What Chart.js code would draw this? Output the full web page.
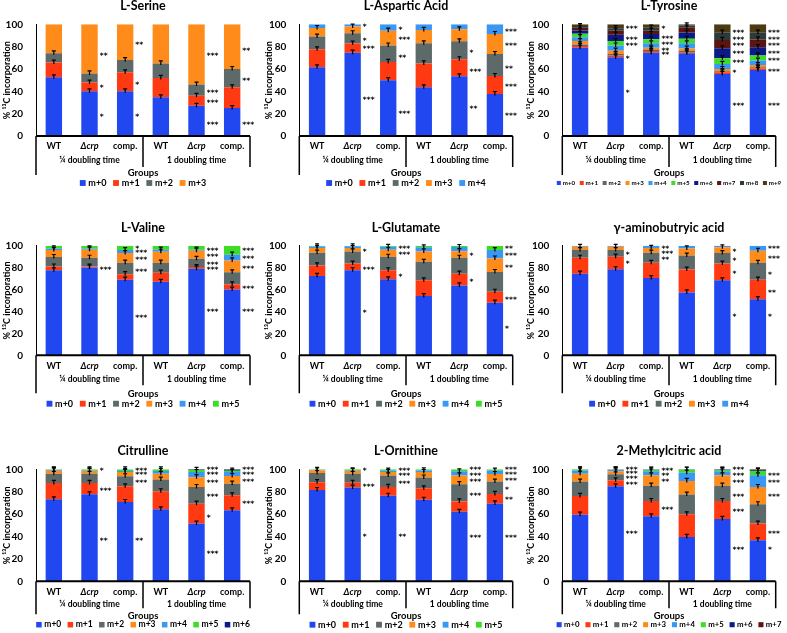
<!DOCTYPE html>
<html>
<head>
<meta charset="utf-8">
<script src="https://cdn.jsdelivr.net/npm/chart.js@4.4.1/dist/chart.umd.min.js"></script>
<style>
  body { margin: 0; background: #fff; }
  canvas { position: absolute; }
</style>
</head>
<body>
<script>
// categories
const strains = ['WT', 'Δcrp', 'comp.', 'WT', 'Δcrp', 'comp.'];
const timeGroups = ['¼ doubling time', '1 doubling time'];
const isotopologues = ['m+0', 'm+1', 'm+2', 'm+3', 'm+4', 'm+5', 'm+6', 'm+7', 'm+8', 'm+9'];
const yTicks = [0, 20, 40, 60, 80, 100];

// L-Serine
const serM0 = [52.5, 40, 40, 34.6, 27, 25];
const serM1 = [13.2, 7.8, 17, 17.4, 9, 18.6];
const serM2 = [8.3, 8.2, 11, 13, 10, 16.4];
const serM3 = [26, 44, 32, 35, 54, 40];
const serStars = [[1, 73.4, '**'], [1, 45, '*'], [1, 19, '*'], [2, 83.6, '**'], [2, 47, '*'], [2, 19, '*'],
  [4, 73, '***'], [4, 40.6, '***'], [4, 31.6, '***'], [4, 12, '***'], [5, 77.6, '**'], [5, 50.7, '**'], [5, 12, '***']];

// L-Aspartic Acid
const aspM0 = [61.5, 74.6, 50, 43.6, 53.4, 37.6];
const aspM1 = [16.1, 8.1, 16.3, 21.4, 15.3, 16.1];
const aspM2 = [11.4, 9.3, 14.7, 18, 16.1, 19.7];
const aspM3 = [7.7, 6, 13.3, 12, 10.7, 17.9];
const aspM4 = [3.3, 2, 5.7, 5, 4.5, 8.7];
const aspStars = [[1, 99.4, '*'], [1, 86.9, '*'], [1, 79.4, '***'], [1, 33.7, '***'],
  [2, 97, '*'], [2, 87.5, '***'], [2, 71.6, '**'], [2, 21, '***'],
  [4, 76, '*'], [4, 59, '***'], [4, 26, '**'],
  [5, 95, '***'], [5, 82, '***'], [5, 62, '**'], [5, 45.7, '***'], [5, 19.4, '***']];

// L-Tyrosine
const tyrM0 = [79, 70.4, 74.6, 74, 55.5, 59];
const tyrM1 = [1.5, 1.6, 1.4, 1, 1.5, 1.5];
const tyrM2 = [1.5, 1.5, 1.5, 1, 1, 1];
const tyrM3 = [3, 2.9, 1.5, 2.3, 2, 2];
const tyrM4 = [3.5, 4.6, 4, 4.7, 4.5, 4];
const tyrM5 = [3, 4, 3.6, 4, 5, 4.5];
const tyrM6 = [3, 5.7, 4.7, 5.6, 9, 7.5];
const tyrM7 = [2.5, 3.6, 3, 4.4, 7.5, 7];
const tyrM8 = [1.5, 2.2, 2.7, 2, 6.5, 6];
const tyrM9 = [1.5, 3.5, 3, 1, 7.5, 7.5];
const tyrStars = [[1, 97.3, '***'], [1, 87.8, '***'], [1, 82.7, '***'], [1, 70.4, '*'], [1, 40.6, '*'],
  [2, 97.3, '*'], [2, 88.4, '***'], [2, 83, '***'], [2, 77.6, '**'], [2, 74.6, '**'],
  [4, 94.3, '***'], [4, 88, '***'], [4, 82, '***'], [4, 75, '***'], [4, 67, '***'], [4, 58.5, '*'], [4, 29, '***'],
  [5, 94.3, '***'], [5, 88, '***'], [5, 82, '***'], [5, 75, '***'], [5, 68.7, '***'], [5, 59, '***'], [5, 29, '***']];

// L-Valine
const valM0 = [77.5, 80, 69, 67, 79, 60];
const valM1 = [3.5, 1, 5, 8.4, 1.5, 4.7];
const valM2 = [8.7, 8, 10.5, 9.1, 7.5, 11];
const valM3 = [6.3, 7.4, 8.8, 10, 7.4, 10.9];
const valM4 = [1.5, 1.1, 2.7, 1.9, 1, 5.2];
const valM5 = [2.5, 2.5, 4, 3.6, 3.6, 8.2];
const valStars = [[1, 80, '***'],
  [2, 98.8, '*'], [2, 95, '***'], [2, 89, '***'], [2, 77.8, '***'], [2, 36, '***'],
  [4, 96.6, '***'], [4, 91.5, '***'], [4, 84, '***'], [4, 79.3, '***'], [4, 41.6, '***'],
  [5, 96.6, '***'], [5, 89.4, '***'], [5, 80.5, '***'], [5, 62.3, '***'], [5, 41.6, '***']];

// L-Glutamate
const gluM0 = [72.4, 77.6, 69.3, 54, 63.8, 48];
const gluM1 = [9.6, 6.1, 8.3, 14.4, 10.7, 10];
const gluM2 = [11.6, 11.1, 12.3, 16.9, 14.5, 18];
const gluM3 = [4.2, 3.2, 6.4, 9.5, 6, 12.3];
const gluM4 = [1.5, 1.5, 2.7, 3.7, 3.8, 7.7];
const gluM5 = [0.7, 0.5, 1, 1.5, 1.2, 4];
const gluStars = [[1, 96, '*'], [1, 80, '***'], [1, 40, '*'],
  [2, 98.5, '***'], [2, 93, '***'], [2, 73, '*'],
  [4, 92, '*'], [4, 69, '*'],
  [5, 98.5, '**'], [5, 92, '***'], [5, 81.6, '**'], [5, 52, '***'], [5, 25.5, '*']];

// gamma-aminobutyric acid
const gabM0 = [74.5, 78.5, 70.5, 57.4, 68.4, 51.2];
const gabM1 = [14.5, 11.5, 13.9, 20.8, 15.3, 17.8];
const gabM2 = [7, 6, 9.2, 12.8, 9.6, 15.4];
const gabM3 = [3, 3, 4.4, 6.5, 5.2, 11];
const gabM4 = [1, 1, 2, 2.5, 1.5, 4.6];
const gabStars = [[1, 93.6, '*'], [1, 85.3, '*'],
  [2, 98.5, '**'], [2, 94, '***'], [2, 89, '**'],
  [4, 96, '*'], [4, 87.4, '*'], [4, 76, '*'], [4, 37, '*'],
  [5, 98.5, '***'], [5, 90, '***'], [5, 75, '*'], [5, 59, '**'], [5, 37, '*']];

// Citrulline
const citM0 = [73.2, 77.7, 70.8, 64.3, 51.5, 63.4];
const citM1 = [14.6, 10.1, 14, 16.1, 17.8, 13.4];
const citM2 = [8.2, 8.2, 9, 10.4, 14.9, 10.4];
const citM3 = [2.8, 2.5, 3.8, 5.2, 8.8, 6.8];
const citM4 = [0.7, 0.5, 0.9, 2.5, 4.6, 3.6];
const citM5 = [0.5, 1, 1.5, 1.5, 1.8, 1.2];
const citM6 = [0, 0, 0, 0, 0.6, 1.2];
const citStars = [[1, 100, '*'], [1, 82.7, '***'], [1, 38, '**'],
  [2, 100.6, '***'], [2, 96.4, '***'], [2, 89.3, '***'], [2, 38, '**'],
  [4, 100.8, '***'], [4, 96.4, '***'], [4, 89.3, '***'], [4, 76.8, '***'], [4, 58.3, '*'], [4, 26, '***'],
  [5, 100.8, '***'], [5, 96.4, '***'], [5, 90.5, '***'], [5, 70.5, '***']];

// L-Ornithine
const ornM0 = [81.5, 83.7, 76.4, 72.8, 62, 69.5];
const ornM1 = [7, 4.3, 7.9, 10.2, 9.3, 8.5];
const ornM2 = [8.2, 8, 10.2, 9.7, 15.4, 11];
const ornM3 = [2.4, 2.5, 3.1, 4.9, 7.8, 6.8];
const ornM4 = [0.5, 0.5, 1.2, 1.4, 3.7, 3];
const ornM5 = [0.4, 1, 1.2, 1, 1.8, 1.2];
const ornStars = [[1, 100, '*'], [1, 86, '***'], [1, 41, '*'],
  [2, 100.6, '***'], [2, 96, '***'], [2, 88.5, '***'], [2, 41, '**'],
  [4, 100.8, '***'], [4, 96, '***'], [4, 90.6, '***'], [4, 78, '***'], [4, 40, '***'],
  [5, 100.8, '***'], [5, 96.4, '***'], [5, 90.9, '***'], [5, 83.7, '*'], [5, 74, '**'], [5, 40, '***']];

// 2-Methylcitric acid
const mcaM0 = [59.5, 84.8, 58, 39.6, 55.7, 36.6];
const mcaM1 = [16.7, 5.4, 13.7, 20.2, 16, 14.9];
const mcaM2 = [12.8, 5.3, 13.7, 17.6, 13.7, 17.3];
const mcaM3 = [7.1, 2.7, 9.2, 12.2, 9.2, 15.4];
const mcaM4 = [2.7, 1.3, 3.6, 7.4, 3.6, 10.4];
const mcaM5 = [1, 0.3, 1.4, 2.6, 1.2, 3.9];
const mcaM6 = [0.1, 0.1, 0.2, 0.2, 0.3, 0.6];
const mcaM7 = [0.1, 0.1, 0.2, 0.2, 0.3, 0.9];
const mcaStars = [[1, 101, '***'], [1, 97.6, '***'], [1, 93, '***'], [1, 87.8, '***'], [1, 44, '***'],
  [2, 100, '***'], [2, 95.5, '**'], [2, 90, '**'], [2, 65.5, '***'],
  [4, 101, '***'], [4, 96, '***'], [4, 89.6, '***'], [4, 77.4, '***'], [4, 63.4, '***'], [4, 29.7, '***'],
  [5, 96, '***'], [5, 89.6, '***'], [5, 77.4, '***'], [5, 44, '***'], [5, 29.7, '*']];

const colors = ['#2148F0', '#FF3A12', '#5E6A6A', '#FF8C1A', '#3A98F5', '#3EDC28', '#0B1A85', '#5C1410', '#2B3B3B', '#4C3A12'];

const panels = [
  { title: 'L-Serine', series: [serM0, serM1, serM2, serM3], stars: serStars },
  { title: 'L-Aspartic Acid', series: [aspM0, aspM1, aspM2, aspM3, aspM4], stars: aspStars },
  { title: 'L-Tyrosine', series: [tyrM0, tyrM1, tyrM2, tyrM3, tyrM4, tyrM5, tyrM6, tyrM7, tyrM8, tyrM9], stars: tyrStars, legendFont: 6.2 },
  { title: 'L-Valine', series: [valM0, valM1, valM2, valM3, valM4, valM5], stars: valStars },
  { title: 'L-Glutamate', series: [gluM0, gluM1, gluM2, gluM3, gluM4, gluM5], stars: gluStars },
  { title: 'γ-aminobutryic acid', series: [gabM0, gabM1, gabM2, gabM3, gabM4], stars: gabStars },
  { title: 'Citrulline', series: [citM0, citM1, citM2, citM3, citM4, citM5, citM6], stars: citStars, legendFont: 8.5 },
  { title: 'L-Ornithine', series: [ornM0, ornM1, ornM2, ornM3, ornM4, ornM5], stars: ornStars },
  { title: '2-Methylcitric acid', series: [mcaM0, mcaM1, mcaM2, mcaM3, mcaM4, mcaM5, mcaM6, mcaM7], stars: mcaStars, legendFont: 7.8 }
];

// layout of the 3x3 grid
const rowGeom = [
  { y: 0, plotTop: 24.3, plotBottom: 136, tickDy: 10, groupDy: 24, groupsDy: 36.5, legendDy: 47, leftLine: 39, midLine: 31 },
  { y: 211, plotTop: 34.7, plotBottom: 144.3, tickDy: 10.7, groupDy: 23.7, groupsDy: 38.4, legendDy: 48.4, leftLine: 38, midLine: 30 },
  { y: 422, plotTop: 47.3, plotBottom: 159.3, tickDy: 10.7, groupDy: 23.4, groupsDy: 35, legendDy: 43.4, leftLine: 33, midLine: 27 }
];
const colGeom = [
  { x: 0, w: 262, left: 36, right: 250 },
  { x: 262, w: 262, left: 37.3, right: 250.7 },
  { x: 524, w: 263, left: 38.3, right: 251.7 }
];
const H = 211;
const FONT = 'Lato';

Chart.defaults.font.family = FONT;
Chart.defaults.color = '#000';

// draws everything Excel put round the bars: caps, axis box, labels, legend, stars
const decorate = {
  id: 'decorate',
  afterDatasetsDraw(chart, args, opts) {
    const { ctx, chartArea: a, scales: { x, y } } = chart;
    const p = opts.panel, g = opts.row;
    const mid = (a.left + a.right) / 2;
    const n = chart.data.datasets.length;
    ctx.save();

    // error caps at the top of each segment
    ctx.strokeStyle = '#000';
    ctx.lineWidth = 1.2;
    chart.data.datasets.forEach((ds, di) => {
      if (di === n - 1) return;
      chart.getDatasetMeta(di).data.forEach((bar, i) => {
        if (!ds.data[i]) return;
        ctx.beginPath();
        ctx.moveTo(bar.x, bar.y + 1.5);
        ctx.lineTo(bar.x, bar.y - 2.5);
        ctx.moveTo(bar.x - 2, bar.y - 2.5);
        ctx.lineTo(bar.x + 2, bar.y - 2.5);
        ctx.stroke();
      });
    });

    // axis line and group box
    ctx.lineWidth = 2;
    ctx.beginPath();
    ctx.moveTo(a.left, a.bottom);
    ctx.lineTo(a.right, a.bottom);
    ctx.stroke();
    ctx.lineWidth = 1.5;
    ctx.beginPath();
    ctx.moveTo(a.left, a.bottom);
    ctx.lineTo(a.left, a.bottom + g.leftLine);
    ctx.moveTo(mid, a.bottom);
    ctx.lineTo(mid, a.bottom + g.midLine);
    ctx.moveTo(a.right, a.bottom);
    ctx.lineTo(a.right, a.bottom + g.midLine);
    ctx.stroke();

    ctx.fillStyle = '#000';
    ctx.textAlign = 'center';
    ctx.textBaseline = 'middle';

    // strain labels
    strains.forEach((s, i) => {
      ctx.font = (s.startsWith('Δ') ? 'italic bold ' : 'bold ') + '9px ' + FONT;
      ctx.fillText(s, x.getPixelForValue(i), a.bottom + g.tickDy);
    });
    // time groups
    ctx.font = 'bold 8.5px ' + FONT;
    timeGroups.forEach((t, k) => {
      const cx = (x.getPixelForValue(k * 3) + x.getPixelForValue(k * 3 + 2)) / 2;
      ctx.fillText(t, cx, a.bottom + g.groupDy);
    });
    ctx.font = 'bold 9.5px ' + FONT;
    ctx.fillText('Groups', mid, a.bottom + g.groupsDy);

    // title
    ctx.font = 'bold 12.5px ' + FONT;
    ctx.fillText(p.title, mid, a.top - 18);

    // significance stars
    const meta0 = chart.getDatasetMeta(0).data;
    ctx.font = 'bold 7.5px "DejaVu Sans"';
    ctx.textAlign = 'left';
    p.stars.forEach(([i, v, s]) => {
      const bar = meta0[i];
      ctx.fillText(s, bar.x + bar.width / 2 + 2, y.getPixelForValue(v) + 2);
    });

    // legend
    const fs = p.legendFont || 9;
    const box = fs * 0.65, gap = fs * 0.3, space = fs * 0.75;
    ctx.font = 'bold ' + fs + 'px ' + FONT;
    const items = chart.data.datasets.map(ds => ({ label: ds.label, color: ds.backgroundColor, w: ctx.measureText(ds.label).width }));
    const total = items.reduce((t, it) => t + box + gap + it.w, 0) + space * (items.length - 1);
    let lx = Math.min(mid - total / 2, chart.width - 2 - total);
    const ly = a.bottom + g.legendDy;
    items.forEach(it => {
      ctx.fillStyle = it.color;
      ctx.fillRect(lx, ly - box / 2, box, box);
      ctx.fillStyle = '#000';
      ctx.fillText(it.label, lx + box + gap, ly);
      lx += box + gap + it.w + space;
    });
    ctx.restore();
  }
};

panels.forEach((p, idx) => {
  const row = rowGeom[Math.floor(idx / 3)];
  const col = colGeom[idx % 3];
  const cv = document.createElement('canvas');
  cv.width = col.w;
  cv.height = H;
  cv.style.left = col.x + 'px';
  cv.style.top = row.y + 'px';
  cv.style.width = col.w + 'px';
  cv.style.height = H + 'px';
  document.body.appendChild(cv);

  new Chart(cv.getContext('2d'), {
    type: 'bar',
    data: {
      labels: strains,
      datasets: p.series.map((vals, k) => ({
        label: isotopologues[k],
        data: vals,
        backgroundColor: colors[k],
        borderWidth: 0,
        barPercentage: 0.46,
        categoryPercentage: 1
      }))
    },
    options: {
      responsive: false,
      animation: false,
      devicePixelRatio: 1,
      layout: { padding: { top: row.plotTop, bottom: H - row.plotBottom, left: 0, right: col.w - col.right } },
      plugins: {
        legend: { display: false },
        title: { display: false },
        tooltip: { enabled: false },
        decorate: { panel: p, row: row }
      },
      scales: {
        x: { stacked: true, display: false },
        y: {
          stacked: true,
          min: 0,
          max: 100,
          afterBuildTicks: s => { s.ticks = yTicks.map(v => ({ value: v })); },
          afterFit: s => { s.width = col.left; },
          ticks: { font: { size: 10, weight: 'bold' }, color: '#000', padding: 5 },
          grid: { display: false },
          border: { display: true, color: '#000', width: 1 },
          title: { display: true, text: '% ¹³C incorporation', font: { size: 9, weight: 'bold' }, padding: { top: 2, bottom: 0 } }
        }
      }
    },
    plugins: [decorate]
  });
});
</script>
</body>
</html>
